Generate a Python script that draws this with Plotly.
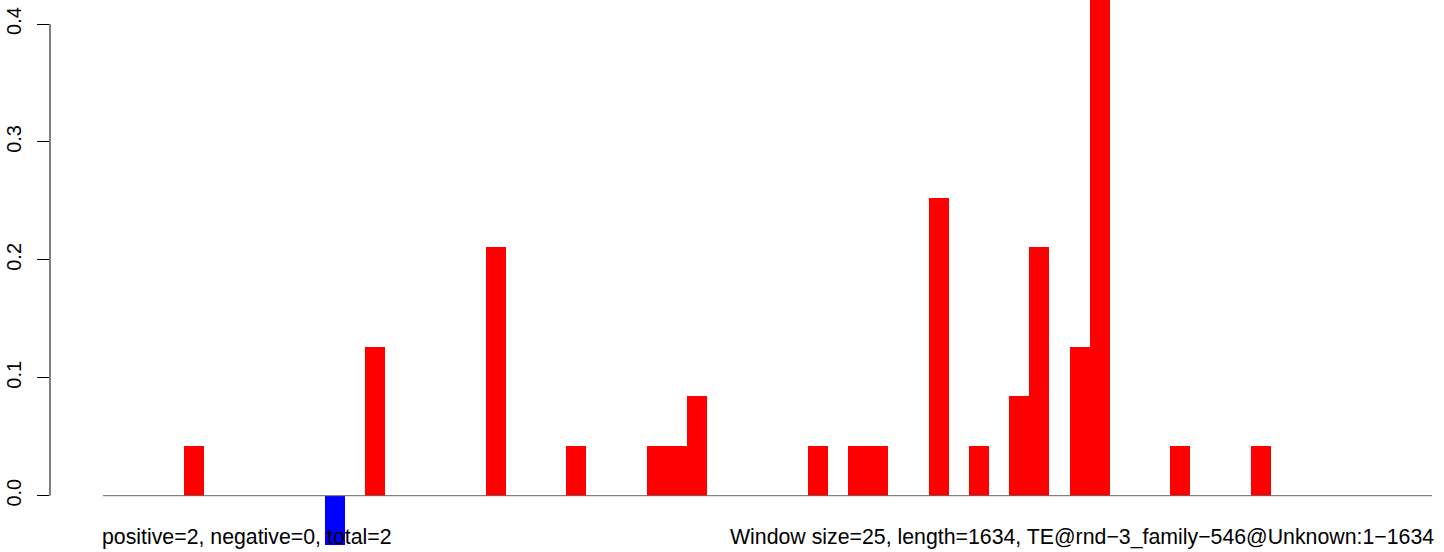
import plotly.graph_objects as go

# ---- data ----
n_windows = 66  # ceil(1634 / 25)
bar_index = [4, 11, 13, 19, 23, 27, 28, 29, 35, 37, 38, 41, 43, 45, 46, 48, 49, 53, 57]
bar_value = [0.0421, -0.0421, 0.1263, 0.2105, 0.0421, 0.0421, 0.0421, 0.0842, 0.0421, 0.0421,
             0.0421, 0.2526, 0.0421, 0.0842, 0.2105, 0.1263, 0.4211, 0.0421, 0.0421]
y_ticks = [0.0, 0.1, 0.2, 0.3, 0.4]
y_tick_labels = ["0.0", "0.1", "0.2", "0.3", "0.4"]
left_label = "positive=2, negative=0, total=2"
right_label = "Window size=25, length=1634, TE@rnd\u22123_family\u2212546@Unknown:1\u22121634"

values = [0.0] * n_windows
for i, v in zip(bar_index, bar_value):
    values[i] = v
x = list(range(n_windows))
colors = ["#ff0000" if v > 0 else "#0000ff" for v in values]

fig = go.Figure()
fig.add_trace(go.Bar(x=x, y=values, marker=dict(color=colors, line=dict(width=0)),
                     width=1.0, showlegend=False, hoverinfo="skip"))

W, H = 1444, 552
plot_left, plot_right = 50, 1432
bars_left = 103
px_per_unit = (plot_right - bars_left) / n_windows
x0_range = -0.5 - (bars_left - plot_left) / px_per_unit
x1_range = n_windows - 0.5

zero_px, top_px = 495.7, 24.0
y_per_px = 0.4 / (zero_px - top_px)
y_top = 0.4 + top_px * y_per_px
y_bot = 0.0 - (H - zero_px) * y_per_px

text_font = dict(family="Liberation Sans, Arial, sans-serif", size=21.3, color="black")
tick_font = dict(family="Liberation Sans, Arial, sans-serif", size=20, color="black")

fig.update_layout(
    template="none",
    width=W, height=H,
    margin=dict(l=plot_left, r=W - plot_right, t=0, b=0, pad=0),
    paper_bgcolor="white", plot_bgcolor="white",
    bargap=0,
    font=text_font,
    xaxis=dict(range=[x0_range, x1_range], visible=False, showgrid=False, zeroline=False,
               automargin=False),
    yaxis=dict(range=[y_bot, y_top], showgrid=False, zeroline=False, showline=False,
               tickvals=y_ticks, ticktext=y_tick_labels, ticks="outside", ticklen=12,
               tickwidth=1, tickcolor="black", tickangle=-90, tickfont=tick_font,
               ticklabelstandoff=8, automargin=False),
    shapes=[
        dict(type="line", xref="x", yref="y", x0=-0.5, x1=n_windows - 0.5, y0=0, y1=0,
             line=dict(color="#666666", width=1), layer="above"),
        dict(type="line", xref="paper", yref="y", x0=0, x1=0, y0=y_ticks[0], y1=y_ticks[-1],
             line=dict(color="black", width=1)),
    ],
    annotations=[
        dict(text=left_label, xref="x", yref="paper", x=-0.5, y=1 - 537 / H,
             xanchor="left", yanchor="middle", showarrow=False, font=text_font,
             borderpad=0, xshift=-2),
        dict(text=right_label, xref="x", yref="paper", x=n_windows - 0.5, y=1 - 537 / H,
             xanchor="right", yanchor="middle", showarrow=False, font=text_font,
             borderpad=0, xshift=3),
    ],
)

fig.write_html("out.html", config={"displayModeBar": False},
               post_script="document.body.style.margin='0px';")
